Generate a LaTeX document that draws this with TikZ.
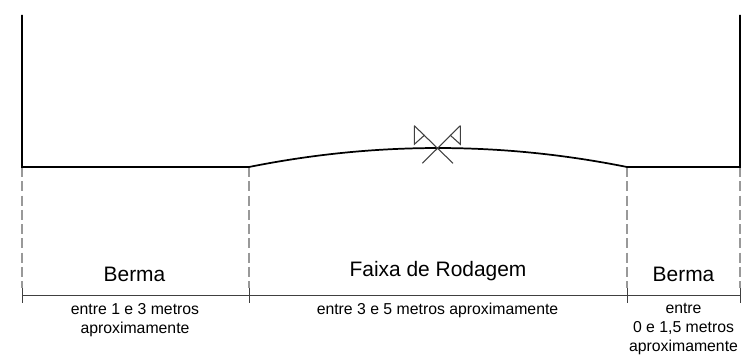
\documentclass[tikz,border=0pt]{standalone}
\usepackage{fontspec}
\setmainfont{Liberation Sans}
\tikzset{
  road/.style={draw=black,line width=1.3pt,line join=miter},
  guide/.style={draw=black!40,line width=0.8pt,dash pattern=on 7.5pt off 3.2pt},
  dim/.style={draw=black!75,line width=0.7pt},
  valve/.style={draw=black!75,line width=0.8pt,line join=miter},
  big/.style={font=\fontsize{15.7}{18}\selectfont,inner sep=0pt,anchor=base},
  small/.style={font=\fontsize{11.85}{14.25}\selectfont,inner sep=0pt,align=center,anchor=north}
}
\begin{document}
\begin{tikzpicture}[x=0.75pt,y=-0.75pt]
\useasboundingbox (0,0) rectangle (748,360);
% reference points
\coordinate (wl) at (22,15);
\coordinate (gl) at (22,167);
\coordinate (a) at (249,167);
\coordinate (b) at (627,167);
\coordinate (gr) at (740,167);
\coordinate (wr) at (740,15);
% guides
\foreach \n in {gl,a,b,gr} \draw[guide] (\n) -- ++(0,121);
% road
\draw[road] (wl) -- (gl) -- (a) .. controls (375,141.7) and (501,141.7) .. (b) -- (gr) -- (wr);
% dimension line
\coordinate (dl) at (22,295.7);
\coordinate (dr) at (740,295.7);
\draw[dim] (dl) -- (dr);
\foreach \x in {22,249,627,740} \draw[dim] (\x,288) -- (\x,303);
% valve
\coordinate (v1) at (414.3,125.7);
\coordinate (v2) at (453,163.3);
\coordinate (v3) at (460.3,125.7);
\coordinate (v4) at (422.3,163.3);
\draw[valve] (v1) -- (v2);
\draw[valve] (v3) -- (v4);
\draw[valve] (v1) -- (414.3,144.3) -- (424.7,135);
\draw[valve] (v3) -- (460.3,144.3) -- (450,135);
% labels
\node[big] (t1) at (134.5,281) {Berma};
\node[big] (t2) at (438,276) {Faixa de Rodagem};
\node[big] (t3) at (683.5,281) {Berma};
\node[small] (s1) at (135,303) {entre 1 e 3 metros\\aproximamente};
\node[small] (s2) at (437.5,303) {entre 3 e 5 metros aproximamente};
\node[small] (s3) at (683.5,303) {entre\\0 e 1,5 metros\\aproximamente};
\end{tikzpicture}
\end{document}
